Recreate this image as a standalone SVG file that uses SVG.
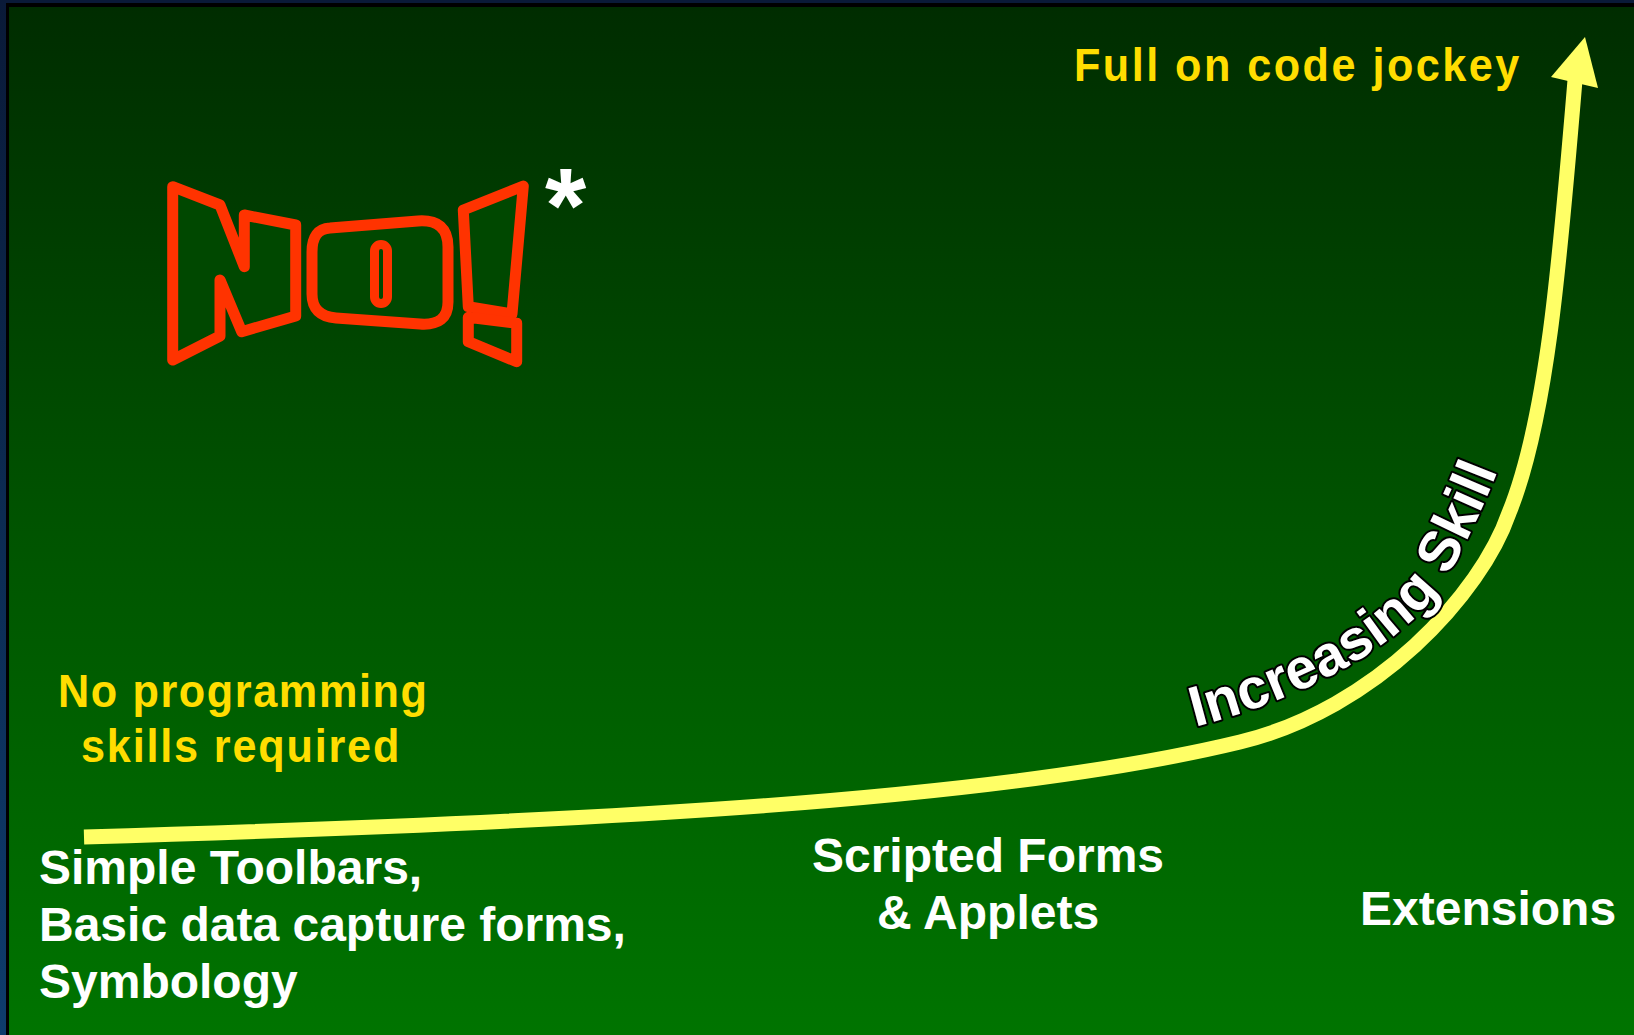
<svg xmlns="http://www.w3.org/2000/svg" width="1634" height="1035" viewBox="0 0 1634 1035">
<defs>
<linearGradient id="bg" x1="0" y1="0" x2="0" y2="1">
<stop offset="0" stop-color="#002c00"/>
<stop offset="0.5" stop-color="#005300"/>
<stop offset="1" stop-color="#007400"/>
</linearGradient>
<linearGradient id="edge" x1="0" y1="0" x2="0" y2="1">
<stop offset="0" stop-color="#0a1a38"/>
<stop offset="1" stop-color="#0e3c6c"/>
</linearGradient>
<style>
.yl{font-family:"Liberation Sans",Arial,sans-serif;font-weight:bold;font-size:47px;fill:#ffdd00}
.wt{font-family:"Liberation Sans",Arial,sans-serif;font-weight:bold;font-size:48px;fill:#ffffff}
.no{fill:#004800;stroke:#ff3300;stroke-width:11;stroke-linejoin:round}
.curve{fill:none;stroke:#ffff66;stroke-width:15}
.skill{font-family:"Liberation Sans",Arial,sans-serif;font-weight:bold;font-size:57px;fill:#ffffff;stroke:#000000;stroke-width:4;paint-order:stroke;stroke-linejoin:round}
</style>
<path id="skillPath" d="M1195,727 C1300,700 1408,645 1447,578 C1468,540 1495,485 1512,430"/>
</defs>
<rect x="0" y="0" width="1634" height="1035" fill="url(#bg)"/>
<rect x="0" y="0" width="1634" height="7" fill="#000000"/>
<rect x="0" y="0" width="9" height="1035" fill="#000000"/>
<rect x="0" y="0" width="1634" height="3" fill="#0a1a38"/>
<rect x="0" y="0" width="6" height="1035" fill="url(#edge)"/>

<g id="connectors">
<path class="curve" d="M84,837 C600,822 1000,800 1240,742 C1376,709 1481,594 1509,513 C1547,420 1560,260 1575,80"/>
<polygon points="1585,37 1598,88 1551,77" fill="#ffff66"/>
</g>

<g id="no-sign">
<polygon class="no" points="172.7,186.7 220,205 244.3,266.7 244.3,215 295.7,225 295.7,316 241.7,331.7 220,280 220,336 172.7,360"/>
<path class="no" d="M330,228 L418,221 Q448,219 448,247 L448,302 Q448,326 420,324 L336,318 Q312,316 312,294 L312,252 Q312,229 330,228 Z"/>
<rect x="374.5" y="244.5" width="13" height="59" rx="6.5" fill="#004800" stroke="#ff3300" stroke-width="9"/>
<polygon class="no" points="463.3,210 523.3,186 512,314 468.3,306.7"/>
<polygon class="no" points="468.3,317.3 516.7,323.3 516.7,361.7 468.3,341.7"/>
<text x="545" y="242" font-family="Liberation Sans, Arial, sans-serif" font-weight="bold" font-size="106" fill="#ffffff">*</text>
</g>

<g id="label-top">
<text class="yl" transform="translate(1074,81) scale(0.92,1)" x="0" y="0" textLength="484" lengthAdjust="spacing">Full on code jockey</text>
</g>
<g id="label-noprog">
<text class="yl" transform="translate(58,707) scale(0.92,1)" x="0" y="0" textLength="401" lengthAdjust="spacing">No programming</text>
<text class="yl" transform="translate(81,762) scale(0.92,1)" x="0" y="0" textLength="346" lengthAdjust="spacing">skills required</text>
</g>
<g id="label-simple">
<text class="wt" x="39" y="884">Simple Toolbars,</text>
<text class="wt" x="39" y="941">Basic data capture forms,</text>
<text class="wt" x="39" y="998">Symbology</text>
</g>
<g id="label-scripted">
<text class="wt" x="988" y="872" text-anchor="middle">Scripted Forms</text>
<text class="wt" x="988" y="929" text-anchor="middle">&amp; Applets</text>
</g>
<g id="label-ext">
<text class="wt" x="1360" y="925">Extensions</text>
</g>
<g id="label-skill">
<text class="skill"><textPath href="#skillPath" startOffset="0">Increasing Skill</textPath></text>
</g>
</svg>
